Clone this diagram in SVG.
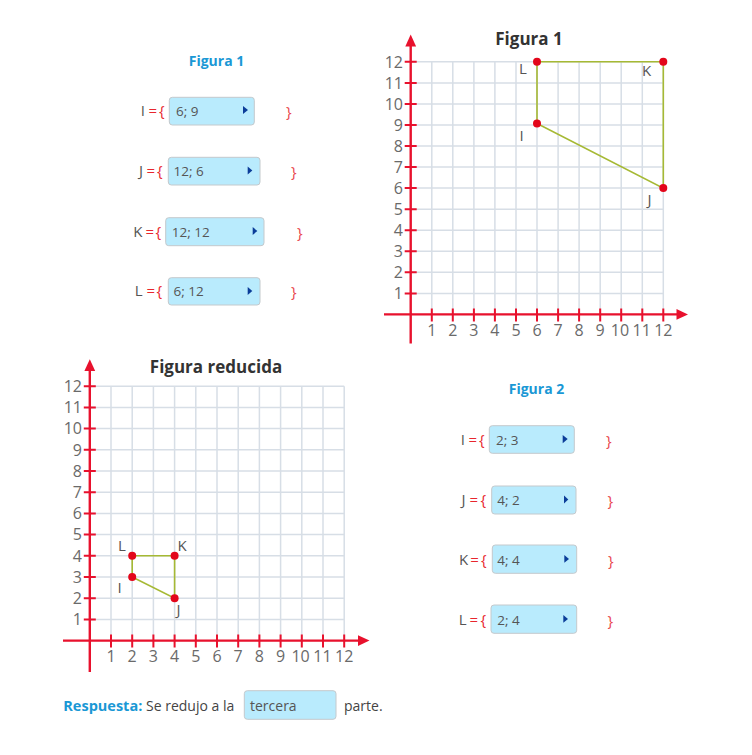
<svg xmlns="http://www.w3.org/2000/svg" width="752" height="755" viewBox="0 0 752 755">
<style>
text{font-family:"Open Sans","Noto Sans","DejaVu Sans",sans-serif;}
.ttl{font-weight:bold;font-size:14px;fill:#1a98d5;}
.ttl2{font-weight:bold;font-size:17px;fill:#333;}
.lbl{font-size:15px;fill:#555;}
.red{font-size:15px;fill:#e8262d;}
.brc{font-size:15px;fill:#e9474d;}
.val{font-size:13.5px;fill:#555;}
.box{fill:#b9ebfd;stroke:#c4c9cc;stroke-width:1;}
.tri{fill:#0b3d99;}
.grid{stroke:#d7dee6;stroke-width:1.5;fill:none;}
.axis{stroke:#e8112d;stroke-width:2.4;fill:none;}
.tick{stroke:#e8112d;stroke-width:2;fill:none;}
.arrow{fill:#e8112d;}
.num{font-size:16px;fill:#6a6a6a;}
.ny{text-anchor:end;}
.nx{text-anchor:middle;}
.poly{stroke:#a6b934;stroke-width:1.6;fill:none;}
.pt{fill:#e3061a;}
.plbl{font-size:15px;fill:#555;text-anchor:middle;}
.body{font-size:14px;fill:#444;}
.resp{font-size:14.5px;font-weight:bold;fill:#1a98d5;}
</style>

<!-- Panel Figura 1 -->
<g id="panel-figura1">
<text class="ttl" x="216.5" y="66" text-anchor="middle">Figura 1</text>
<g id="f1-I">
<text class="lbl" x="145" y="116" text-anchor="end">I</text>
<text class="red" x="148.5" y="116">=</text>
<text class="red" x="159" y="116">{</text>
<rect class="box" x="169.3" y="97.3" width="85" height="27.7" rx="3"/>
<text class="val" x="176" y="116">6; 9</text>
<polygon class="tri" points="243,106 248,110 243,114"/>
<text class="brc" x="286" y="117">}</text>
</g>
<g id="f1-J">
<text class="lbl" x="143" y="176" text-anchor="end">J</text>
<text class="red" x="146.5" y="176">=</text>
<text class="red" x="157" y="176">{</text>
<rect class="box" x="168.3" y="157.3" width="91.7" height="27.7" rx="3"/>
<text class="val" x="173.5" y="176">12; 6</text>
<polygon class="tri" points="247.7,166.5 252.3,170.5 247.7,174.5"/>
<text class="brc" x="291" y="177">}</text>
</g>
<g id="f1-K">
<text class="lbl" x="142.5" y="236.5" text-anchor="end">K</text>
<text class="red" x="145.5" y="236.5">=</text>
<text class="red" x="155.5" y="236.5">{</text>
<rect class="box" x="165.7" y="217.7" width="98.3" height="28" rx="3"/>
<text class="val" x="171.7" y="236.5">12; 12</text>
<polygon class="tri" points="252.7,227 257.3,231 252.7,235"/>
<text class="brc" x="297" y="237.5">}</text>
</g>
<g id="f1-L">
<text class="lbl" x="142.5" y="296" text-anchor="end">L</text>
<text class="red" x="146.5" y="296">=</text>
<text class="red" x="156.5" y="296">{</text>
<rect class="box" x="168.3" y="277.7" width="91.7" height="27.3" rx="3"/>
<text class="val" x="173.5" y="296">6; 12</text>
<polygon class="tri" points="247.7,287 252.3,291 247.7,295"/>
<text class="brc" x="291" y="297">}</text>
</g>
</g>

<!-- Chart Figura 1 -->
<g id="chart-figura1">
<text class="ttl2" x="529" y="45" text-anchor="middle">Figura 1</text>
<path class="grid" d="M431.8 61.8V314.4M452.8 61.8V314.4M473.9 61.8V314.4M494.9 61.8V314.4M516 61.8V314.4M537 61.8V314.4M558.1 61.8V314.4M579.1 61.8V314.4M600.2 61.8V314.4M621.2 61.8V314.4M642.3 61.8V314.4M663.3 61.8V314.4
M410.7 293.4H663.3M410.7 272.3H663.3M410.7 251.3H663.3M410.7 230.2H663.3M410.7 209.2H663.3M410.7 188.1H663.3M410.7 167.1H663.3M410.7 146H663.3M410.7 125H663.3M410.7 103.9H663.3M410.7 82.9H663.3M410.7 61.8H663.3"/>
<path class="axis" d="M384 314.4H678M410.7 343.5V45"/>
<polygon class="arrow" points="688,314.4 676.5,309 676.5,319.8"/>
<polygon class="arrow" points="410.7,34.5 405.3,46.5 416.1,46.5"/>
<path class="tick" d="M431.8 308.4v13M452.8 308.4v13M473.9 308.4v13M494.9 308.4v13M516 308.4v13M537 308.4v13M558.1 308.4v13M579.1 308.4v13M600.2 308.4v13M621.2 308.4v13M642.3 308.4v13M663.3 308.4v13
M404.7 293.4h12M404.7 272.3h12M404.7 251.3h12M404.7 230.2h12M404.7 209.2h12M404.7 188.1h12M404.7 167.1h12M404.7 146h12M404.7 125h12M404.7 103.9h12M404.7 82.9h12M404.7 61.8h12"/>
<g class="num nx">
<text x="431.8" y="335.5">1</text><text x="452.8" y="335.5">2</text><text x="473.9" y="335.5">3</text><text x="494.9" y="335.5">4</text><text x="516" y="335.5">5</text><text x="537" y="335.5">6</text><text x="558.1" y="335.5">7</text><text x="579.1" y="335.5">8</text><text x="600.2" y="335.5">9</text><text x="620" y="335.5">10</text><text x="641.7" y="335.5">11</text><text x="663.3" y="335.5">12</text>
</g>
<g class="num ny">
<text x="403" y="299">1</text><text x="403" y="278">2</text><text x="403" y="257">3</text><text x="403" y="236">4</text><text x="403" y="215">5</text><text x="403" y="194">6</text><text x="403" y="173">7</text><text x="403" y="152">8</text><text x="403" y="131">9</text><text x="403" y="110">10</text><text x="403" y="89">11</text><text x="403" y="67.5">12</text>
</g>
</g>

<!-- Chart Figura reducida -->
<g id="chart-reducida">
<text class="ttl2" x="216" y="373" text-anchor="middle">Figura reducida</text>
<path class="grid" d="M111 386.2V640.6M132.2 386.2V640.6M153.4 386.2V640.6M174.6 386.2V640.6M195.8 386.2V640.6M217 386.2V640.6M238.2 386.2V640.6M259.4 386.2V640.6M280.6 386.2V640.6M301.8 386.2V640.6M323 386.2V640.6M344.2 386.2V640.6
M89.8 619.4H344.2M89.8 598.2H344.2M89.8 577H344.2M89.8 555.8H344.2M89.8 534.6H344.2M89.8 513.4H344.2M89.8 492.2H344.2M89.8 471H344.2M89.8 449.8H344.2M89.8 428.6H344.2M89.8 407.4H344.2M89.8 386.2H344.2"/>
<path class="axis" d="M63 640.6H359M89.8 672V370"/>
<polygon class="arrow" points="369.5,640.6 358,635.2 358,646"/>
<polygon class="arrow" points="89.8,359.3 84.4,371 95.2,371"/>
<path class="tick" d="M111 634.6v13M132.2 634.6v13M153.4 634.6v13M174.6 634.6v13M195.8 634.6v13M217 634.6v13M238.2 634.6v13M259.4 634.6v13M280.6 634.6v13M301.8 634.6v13M323 634.6v13M344.2 634.6v13
M83.8 619.4h12M83.8 598.2h12M83.8 577h12M83.8 555.8h12M83.8 534.6h12M83.8 513.4h12M83.8 492.2h12M83.8 471h12M83.8 449.8h12M83.8 428.6h12M83.8 407.4h12M83.8 386.2h12"/>
<g class="num nx">
<text x="111" y="662">1</text><text x="132.2" y="662">2</text><text x="153.4" y="662">3</text><text x="174.6" y="662">4</text><text x="195.8" y="662">5</text><text x="217" y="662">6</text><text x="238.2" y="662">7</text><text x="259.4" y="662">8</text><text x="280.6" y="662">9</text><text x="300.6" y="662">10</text><text x="322.5" y="662">11</text><text x="344.2" y="662">12</text>
</g>
<g class="num ny">
<text x="82" y="625">1</text><text x="82" y="604">2</text><text x="82" y="582.5">3</text><text x="82" y="561.5">4</text><text x="82" y="540">5</text><text x="82" y="519">6</text><text x="82" y="498">7</text><text x="82" y="476.5">8</text><text x="82" y="455.5">9</text><text x="82" y="434">10</text><text x="82" y="413">11</text><text x="82" y="392">12</text>
</g>
</g>

<!-- Polygons (connectors) -->
<g id="connectors">
<polyline class="poly" points="537,61.8 663.3,61.8 663.3,188.1 537,123.5 537,61.8"/>
<polyline class="poly" points="132.2,555.8 174.6,555.8 174.6,598.2 132.2,577 132.2,555.8"/>
</g>

<g id="f1-pt-L"><circle class="pt" cx="537" cy="61.8" r="4"/><text class="plbl" x="523" y="74">L</text></g>
<g id="f1-pt-K"><circle class="pt" cx="663.3" cy="61.8" r="4"/><text class="plbl" x="646.7" y="75.5">K</text></g>
<g id="f1-pt-J"><circle class="pt" cx="663.3" cy="188.1" r="4"/><text class="plbl" x="649.5" y="205">J</text></g>
<g id="f1-pt-I"><circle class="pt" cx="537" cy="123.5" r="4"/><text class="plbl" x="521.5" y="140.5">I</text></g>

<g id="f2-pt-L"><circle class="pt" cx="132.2" cy="555.8" r="4"/><text class="plbl" x="122" y="550.7">L</text></g>
<g id="f2-pt-K"><circle class="pt" cx="174.6" cy="555.8" r="4"/><text class="plbl" x="182" y="550.7">K</text></g>
<g id="f2-pt-J"><circle class="pt" cx="174.6" cy="598.2" r="4"/><text class="plbl" x="178.5" y="615">J</text></g>
<g id="f2-pt-I"><circle class="pt" cx="132.2" cy="577" r="4"/><text class="plbl" x="119.5" y="593.3">I</text></g>

<!-- Panel Figura 2 -->
<g id="panel-figura2">
<text class="ttl" x="536.5" y="394" text-anchor="middle">Figura 2</text>
<g id="f2-I">
<text class="lbl" x="465" y="444.5" text-anchor="end">I</text>
<text class="red" x="468.5" y="444.5">=</text>
<text class="red" x="479" y="444.5">{</text>
<rect class="box" x="489.3" y="425.7" width="85" height="27.6" rx="3"/>
<text class="val" x="496" y="444.5">2; 3</text>
<polygon class="tri" points="562.7,435 567.7,439 562.7,443.3"/>
<text class="brc" x="606" y="445.5">}</text>
</g>
<g id="f2-J">
<text class="lbl" x="465.5" y="504.5" text-anchor="end">J</text>
<text class="red" x="469.5" y="504.5">=</text>
<text class="red" x="480.5" y="504.5">{</text>
<rect class="box" x="491.7" y="486" width="84.3" height="28" rx="3"/>
<text class="val" x="497.3" y="504.5">4; 2</text>
<polygon class="tri" points="564,495.5 568.3,499.5 564,503.5"/>
<text class="brc" x="607.5" y="505.5">}</text>
</g>
<g id="f2-K">
<text class="lbl" x="468.3" y="564.5" text-anchor="end">K</text>
<text class="red" x="470.3" y="564.5">=</text>
<text class="red" x="481" y="564.5">{</text>
<rect class="box" x="492.3" y="545" width="84.4" height="28.3" rx="3"/>
<text class="val" x="497.3" y="564.5">4; 4</text>
<polygon class="tri" points="564.3,555 569,559 564.3,562.7"/>
<text class="brc" x="608" y="565.5">}</text>
</g>
<g id="f2-L">
<text class="lbl" x="466.5" y="624.5" text-anchor="end">L</text>
<text class="red" x="469.5" y="624.5">=</text>
<text class="red" x="480.5" y="624.5">{</text>
<rect class="box" x="491" y="605" width="85.7" height="28.3" rx="3"/>
<text class="val" x="497.3" y="624.5">2; 4</text>
<polygon class="tri" points="563.3,615 568,619 563.3,622.7"/>
<text class="brc" x="607.5" y="625.5">}</text>
</g>
</g>

<!-- Answer -->
<g id="answer">
<text class="resp" x="63.3" y="711">Respuesta:</text>
<text class="body" x="146" y="711">Se redujo a la</text>
<rect class="box" x="244.3" y="690.7" width="91.7" height="28.6" rx="3"/>
<text class="body" x="250" y="711" style="fill:#555">tercera</text>
<text class="body" x="344" y="711">parte.</text>
</g>
</svg>
